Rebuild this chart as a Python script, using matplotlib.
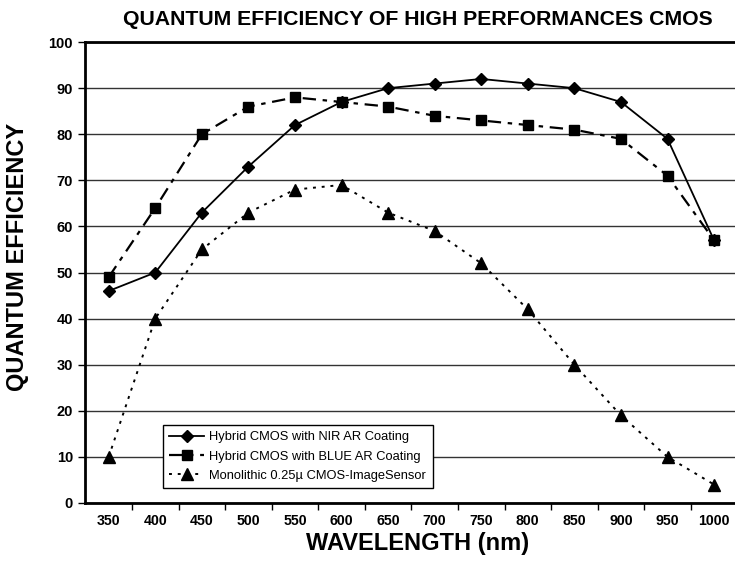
import matplotlib
matplotlib.use('Agg')
import matplotlib.pyplot as plt
import numpy as np

plt.rcParams['font.family'] = ['Liberation Sans', 'DejaVu Sans']

wavelengths = ['350', '400', '450', '500', '550', '600', '650', '700',
               '750', '800', '850', '900', '950', '1000']
nir_coating = [46, 50, 63, 73, 82, 87, 90, 91, 92, 91, 90, 87, 79, 57]
blue_coating = [49, 64, 80, 86, 88, 87, 86, 84, 83, 82, 81, 79, 71, 57]
monolithic = [10, 40, 55, 63, 68, 69, 63, 59, 52, 42, 30, 19, 10, 4]

fig = plt.figure(figsize=(7.35, 5.74), dpi=100)
ax = fig.add_axes([0.1162, 0.1237, 0.887, 0.803])

x = np.arange(len(wavelengths))
ax.plot(x, nir_coating, color='black', lw=1.3, marker='D', ms=6.5,
        label='Hybrid CMOS with NIR AR Coating')
ax.plot(x, blue_coating, color='black', lw=1.6, marker='s', ms=7,
        dashes=(6, 3, 2, 3), label='Hybrid CMOS with BLUE AR Coating')
ax.plot(x, monolithic, color='black', lw=1.4, marker='^', ms=8.5,
        dashes=(1.5, 3), label='Monolithic 0.25\u00b5 CMOS-ImageSensor')

ax.set_xlim(-0.5, len(wavelengths) - 0.5)
ax.set_ylim(0, 100)
ax.set_yticks(range(0, 101, 10))
ax.set_xticks(x)
ax.set_xticklabels(wavelengths, fontsize=10.2, fontweight='bold')
ax.set_xticks(np.arange(0.5, len(wavelengths) - 0.5), minor=True)
ax.tick_params(axis='x', which='major', length=0, pad=8)
ax.tick_params(axis='x', which='minor', length=5, width=1, direction='out')
ax.tick_params(axis='y', length=5, width=1, direction='out', pad=4)
for lab in ax.get_yticklabels():
    lab.set_fontsize(10.5)
    lab.set_fontweight('bold')

ax.grid(axis='y', color='#333333', lw=1)
ax.set_axisbelow(True)
for side in ['left', 'bottom', 'top']:
    ax.spines[side].set_linewidth(2)
ax.spines['right'].set_visible(False)

ax.set_title('QUANTUM EFFICIENCY OF HIGH PERFORMANCES CMOS',
             fontsize=15.3, fontweight='bold', pad=12, x=0.51)
ax.set_xlabel('WAVELENGTH (nm)', fontsize=17, fontweight='bold')
ax.xaxis.set_label_coords(0.51, -0.062)
ax.set_ylabel('QUANTUM EFFICIENCY', fontsize=17, fontweight='bold')
ax.yaxis.set_label_coords(-0.086, 0.534)

leg = ax.legend(loc='lower left', bbox_to_anchor=(0.119, 0.032), fontsize=9.3,
                frameon=True, fancybox=False, edgecolor='black',
                handlelength=2.7, borderpad=0.5, labelspacing=0.55,
                handletextpad=0.4, borderaxespad=0)
leg.get_frame().set_linewidth(1)
leg.get_frame().set_alpha(1)

fig.savefig('out.png', dpi=100)
